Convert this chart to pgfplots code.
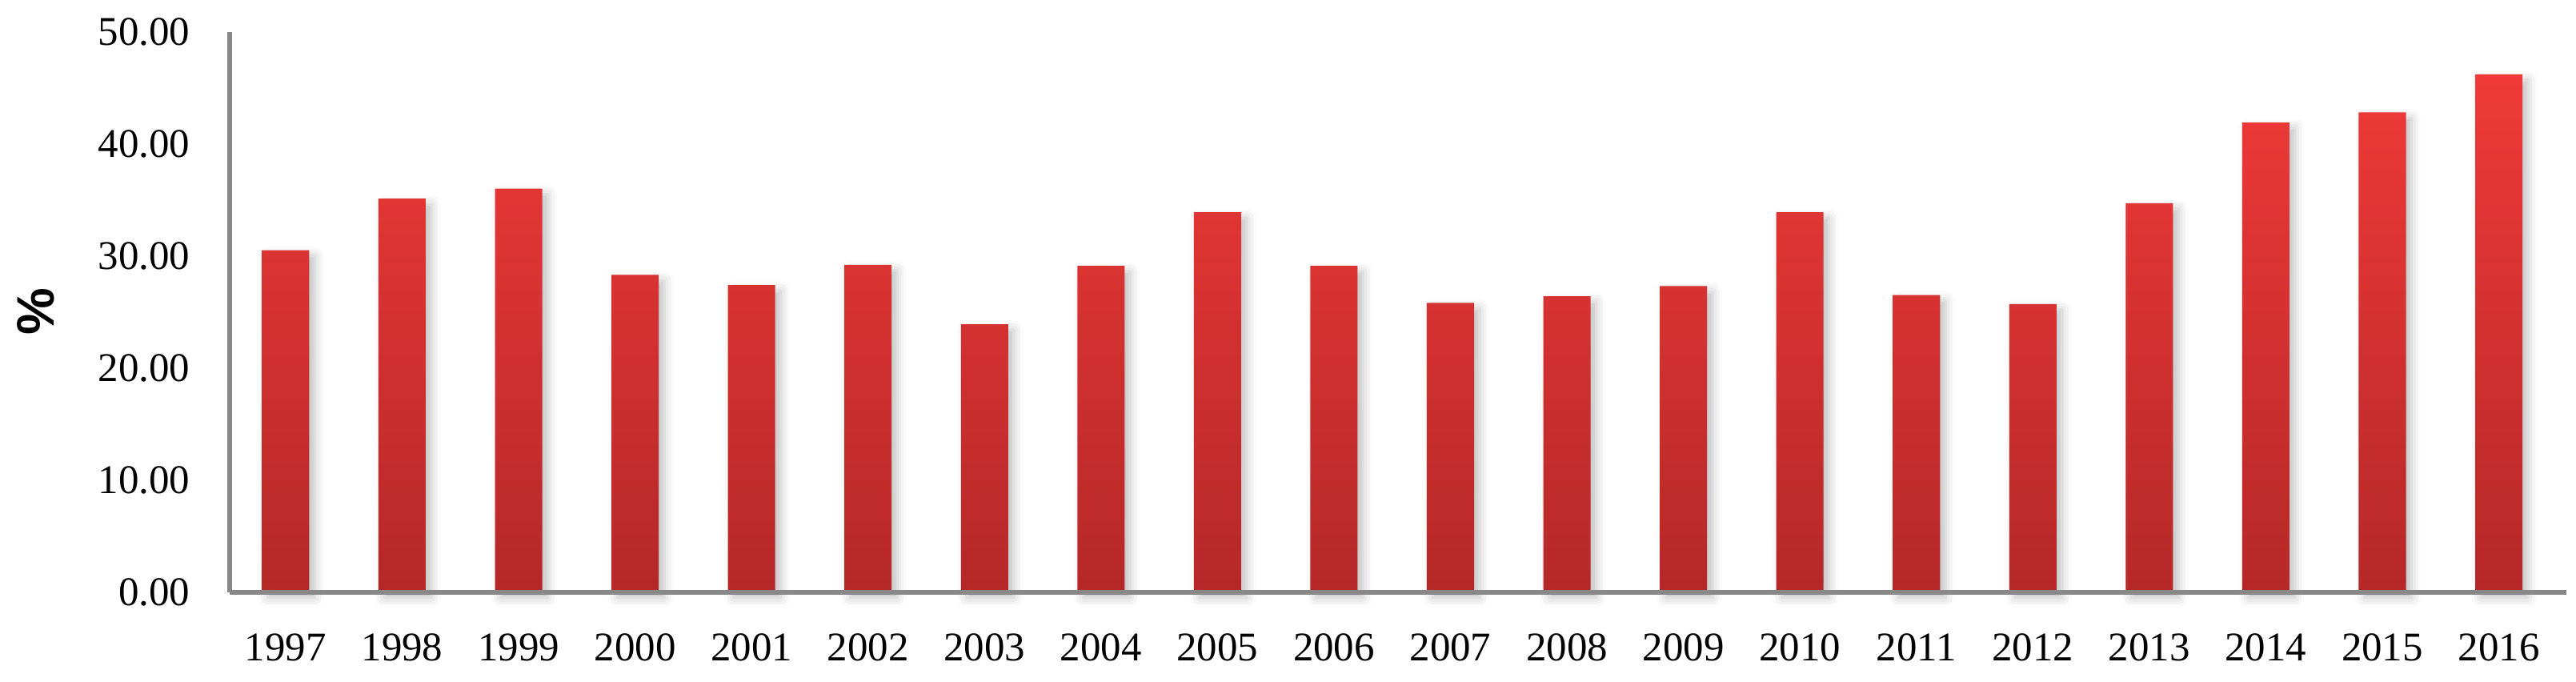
\documentclass[border=0pt]{standalone}
\usepackage{pgfplots}
\pgfplotsset{compat=1.18}
\usetikzlibrary{shadows.blur}
\usepackage{fontspec}
\setmainfont{Liberation Serif}
\newfontfamily\labelfont{Liberation Sans}

\definecolor{bartop}{RGB}{239,58,56}
\definecolor{barbot}{RGB}{181,40,40}
\definecolor{axgray}{RGB}{136,136,136}

\begin{document}
\begin{tikzpicture}
\path[use as bounding box] (-2.14cm,-0.83cm) rectangle (21.86cm,5.515cm);
\begin{axis}[
    scale only axis,
    width=21.77cm, height=5.22cm,
    xmin=-0.48, xmax=19.58,
    ymin=0, ymax=50,
    axis x line=bottom, axis y line=left,
    axis line style={-, axgray, line width=1.3pt},
    major tick length=0pt,
    xtick={0,...,19},
    xticklabels={1997,1998,1999,2000,2001,2002,2003,2004,2005,2006,2007,2008,2009,2010,2011,2012,2013,2014,2015,2016},
    ytick={0,10,...,50},
    /pgf/number format/fixed,
    /pgf/number format/fixed zerofill,
    /pgf/number format/precision=2,
    /pgf/number format/assume math mode=true,
    yticklabel style={xshift=-7pt},
    xticklabel style={yshift=-7.5pt},
    tick label style={font=\fontsize{10.8}{12}\selectfont},
    ylabel={\labelfont\bfseries\fontsize{14}{16}\selectfont \%},
    ylabel style={at={(axis description cs:-0.0831,0.5)}, anchor=center},
    axis on top,
    clip=false,
]
\addplot[ybar, bar width=0.44cm, draw=none, top color=bartop, bottom color=barbot,
    blur shadow={shadow xshift=1.5pt, shadow yshift=-1.5pt, shadow blur radius=2.5pt, shadow opacity=25}]
coordinates {
    (0, 30.5)
    (1, 35.1)
    (2, 36.0)
    (3, 28.3)
    (4, 27.4)
    (5, 29.2)
    (6, 23.9)
    (7, 29.1)
    (8, 33.9)
    (9, 29.1)
    (10, 25.8)
    (11, 26.4)
    (12, 27.3)
    (13, 33.9)
    (14, 26.5)
    (15, 25.7)
    (16, 34.7)
    (17, 41.9)
    (18, 42.8)
    (19, 46.2)
};
\end{axis}
\end{tikzpicture}
\end{document}
